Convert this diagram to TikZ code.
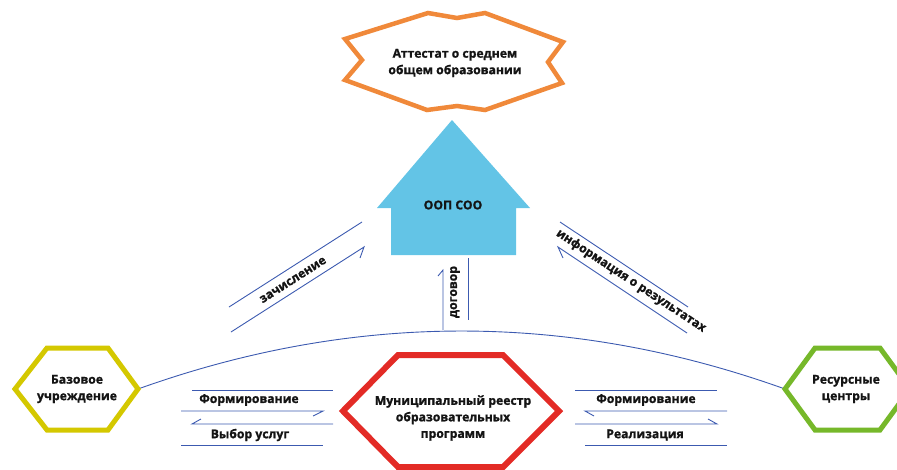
\documentclass[tikz,border=0pt]{standalone}
\usepackage{fontspec}
\setmainfont{Open Sans}[BoldFont={Open Sans Bold}, BoldFeatures={FakeBold=1.2}]
\definecolor{starorange}{RGB}{240,137,58}
\definecolor{housecolor}{RGB}{99,196,230}
\definecolor{hexyellow}{RGB}{212,200,0}
\definecolor{hexgreen}{RGB}{118,184,42}
\definecolor{hexred}{RGB}{227,43,38}
\definecolor{arrowblue}{RGB}{60,90,176}
\definecolor{txt}{RGB}{20,20,20}
\begin{document}
\begin{tikzpicture}[x=1pt,y=-1pt,
  lbl/.style={font=\bfseries\fontsize{12.2}{16.5}\selectfont, text=txt, align=center, inner sep=0pt},
  flow/.style={draw=arrowblue, line width=0.9pt, line join=miter},
  hexline/.style={line width=5pt, line join=miter, fill=white},
]
\useasboundingbox (0,0) rectangle (897,469);

% arc between side hexagons
\coordinate (baseE) at (138,389);
\coordinate (resW) at (785,389);
\coordinate (arcC1) at (353.7,311.7);
\coordinate (arcC2) at (569.3,311.7);
\draw[flow] (baseE) .. controls (arcC1) and (arcC2) .. (resW);

% star (certificate)
\draw[draw=starorange, line width=4.5pt, line join=miter, fill=white]
  (345,39) -- (428,13) -- (457,18) -- (485,13) -- (563,42) -- (548,62) -- (562,83)
  -- (485,110) -- (457,106) -- (427,110) -- (345,80) -- (362,60) -- cycle;
\node[lbl] (att) at (455,63) {Аттестат о среднем\\общем образовании};

% house
\fill[housecolor] (452,120) -- (530,208) -- (516,208) -- (516,255) -- (391,255)
  -- (391,208) -- (377,208) -- cycle;
\node[lbl] (oop) at (453,205) {ООП СОО};

% hexagons
\draw[hexline, draw=hexyellow] (15,389) -- (47,348) -- (108,348) -- (138,389) -- (108,430) -- (47,430) -- cycle;
\node[lbl] (base) at (77,389) {Базовое\\учреждение};

\draw[hexline, draw=hexgreen] (785,389) -- (815,348) -- (880,348) -- (910,389) -- (880,430) -- (815,430) -- cycle;
\node[lbl] (res) at (846,389) {Ресурсные\\центры};

\draw[hexline, line width=6pt, draw=hexred] (343,411) -- (398,355) -- (503,355) -- (559,411) -- (503,467) -- (398,467) -- cycle;
\node[lbl] (reg) at (453,418) {Муниципальный реестр\\образовательных\\программ};

% зачисление
\coordinate (z1a) at (229,307); \coordinate (z1b) at (362,222);
\coordinate (z2a) at (231,332); \coordinate (z2b) at (364,247);
\draw[flow] (z1a) -- (z1b);
\draw[flow] (z2a) -- (z2b) -- ++(-4,11);
\node[lbl, rotate=32.6] (zach) at (293,280) {зачисление};

% информация о результатах
\coordinate (i1a) at (560,222); \coordinate (i1b) at (688,307);
\coordinate (i2a) at (687,333); \coordinate (i2b) at (558,247);
\draw[flow] (i1a) -- (i1b);
\draw[flow] (i2a) -- (i2b) -- ++(5,11);
\node[lbl, rotate=-33.4] (info) at (631,281) {информация о результатах};

% договор
\coordinate (d1a) at (443,330); \coordinate (d1b) at (443,270);
\coordinate (d2a) at (468,258); \coordinate (d2b) at (468,320);
\draw[flow] (d1a) -- (d1b) -- ++(-5,6);
\draw[flow] (d2a) -- (d2b);
\node[lbl, rotate=90] (dog) at (455,292) {договор};

% left bottom arrows
\coordinate (l1a) at (192,390); \coordinate (l1b) at (333,390);
\coordinate (l2a) at (181,411); \coordinate (l2b) at (323,411);
\coordinate (l3a) at (333,424); \coordinate (l3b) at (192,424);
\coordinate (l4a) at (181,445); \coordinate (l4b) at (323,445);
\draw[flow] (l1a) -- (l1b);
\draw[flow] (l2a) -- (l2b) -- ++(-10,5);
\draw[flow] (l3a) -- (l3b) -- ++(9,-5);
\draw[flow] (l4a) -- (l4b);
\node[lbl] (lform) at (249,400) {Формирование};
\node[lbl] (lvyb) at (250,435) {Выбор услуг};

% right bottom arrows
\coordinate (r1a) at (575,390); \coordinate (r1b) at (717,390);
\coordinate (r2a) at (727,411); \coordinate (r2b) at (585,411);
\coordinate (r3a) at (575,424); \coordinate (r3b) at (717,424);
\coordinate (r4a) at (585,445); \coordinate (r4b) at (727,445);
\draw[flow] (r1a) -- (r1b);
\draw[flow] (r2a) -- (r2b) -- ++(9,5);
\draw[flow] (r3a) -- (r3b) -- ++(-9,-5);
\draw[flow] (r4a) -- (r4b);
\node[lbl] (rform) at (646,400) {Формирование};
\node[lbl] (rreal) at (645,435) {Реализация};
\end{tikzpicture}
\end{document}
